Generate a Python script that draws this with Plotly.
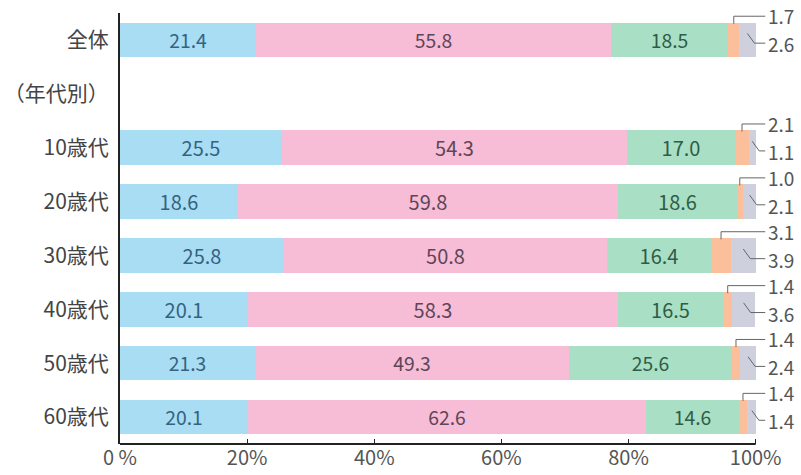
import plotly.graph_objects as go

categories = ["全体", "（年代別）", "10歳代", "20歳代", "30歳代", "40歳代", "50歳代", "60歳代"]
row_pos = [0, 2, 3, 4, 5, 6, 7]  # rows that carry bars (row 1 is the heading)
s1 = [21.4, 25.5, 18.6, 25.8, 20.1, 21.3, 20.1]
s2 = [55.8, 54.3, 59.8, 50.8, 58.3, 49.3, 62.6]
s3 = [18.5, 17.0, 18.6, 16.4, 16.5, 25.6, 14.6]
s4 = [1.7, 2.1, 1.0, 3.1, 1.4, 1.4, 1.4]
s5 = [2.6, 1.1, 2.1, 3.9, 3.6, 2.4, 1.4]
tick_vals = [0, 20, 40, 60, 80, 100]
tick_text = ["0 %", "20%", "40%", "60%", "80%", "100%"]

colors = ["#a8ddf4", "#f7bcd6", "#a9dfc4", "#fcbf9c", "#cfd0de"]
text_colors = ["#35637f", "#5e4656", "#2f5d47", "#555", "#555"]
font_family = "Noto Sans CJK JP, Noto Sans, sans-serif"
X_MAX = 106.5

fig = go.Figure()
for i, vals in enumerate([s1, s2, s3, s4, s5]):
    show_text = i < 3
    fig.add_trace(go.Bar(
        x=vals, y=row_pos, orientation="h",
        marker=dict(color=colors[i], line=dict(width=0)),
        width=0.64,
        text=[f"{v:.1f}" for v in vals] if show_text else None,
        textposition="inside" if show_text else "none",
        insidetextanchor="middle",
        textfont=dict(size=20, color=text_colors[i], family=font_family),
        showlegend=False, hoverinfo="skip",
    ))

shapes = []
annotations = []
for k, y in enumerate(row_pos):
    cum3 = s1[k] + s2[k] + s3[k]
    xo = cum3 + s4[k] / 2
    xg = cum3 + s4[k] + s5[k] / 2
    # upper leader (orange)
    shapes.append(dict(type="path", xref="x", yref="y",
                       path=f"M {xo},{y-0.3} L {xo},{y-0.44} L 101.5,{y-0.44}",
                       line=dict(color="#666", width=1)))
    annotations.append(dict(x=101.6, y=y - 0.45, xref="x", yref="y", text=f"{s4[k]:.1f}",
                            showarrow=False, xanchor="left", yanchor="middle",
                            font=dict(size=19, color="#555", family=font_family)))
    # lower leader (gray)
    shapes.append(dict(type="path", xref="x", yref="y",
                       path=f"M {xg},{y-0.12} L {xg+1.1},{y+0.06} L 101.5,{y+0.06}",
                       line=dict(color="#666", width=1)))
    annotations.append(dict(x=101.6, y=y + 0.07, xref="x", yref="y", text=f"{s5[k]:.1f}",
                            showarrow=False, xanchor="left", yanchor="middle",
                            font=dict(size=19, color="#555", family=font_family)))

# x-axis baseline from 0 % to 100 %
shapes.append(dict(type="line", xref="x", yref="paper", x0=0, x1=100, y0=0, y1=0,
                   line=dict(color="#222", width=2)))

fig.update_layout(
    width=801, height=475,
    margin=dict(l=117, r=4, t=13, b=30),
    paper_bgcolor="white", plot_bgcolor="white",
    barmode="stack", bargap=0,
    shapes=shapes, annotations=annotations,
    font=dict(family=font_family, color="#555"),
    uniformtext=dict(mode=False),
)
fig.update_xaxes(range=[0, X_MAX], tickvals=tick_vals, ticktext=tick_text,
                 showgrid=False, zeroline=False, showline=False,
                 ticks="inside", ticklen=5, tickcolor="#222", tickwidth=1,
                 tickfont=dict(size=20, color="#555", family=font_family))
fig.update_yaxes(range=[7.5, -0.5], tickvals=list(range(len(categories))), ticktext=categories,
                 showgrid=False, zeroline=False, showline=True, linecolor="#222",
                 linewidth=2, ticks="", ticklabelstandoff=5,
                 tickfont=dict(size=21, color="#444", family=font_family))

fig.write_html("out.html")
